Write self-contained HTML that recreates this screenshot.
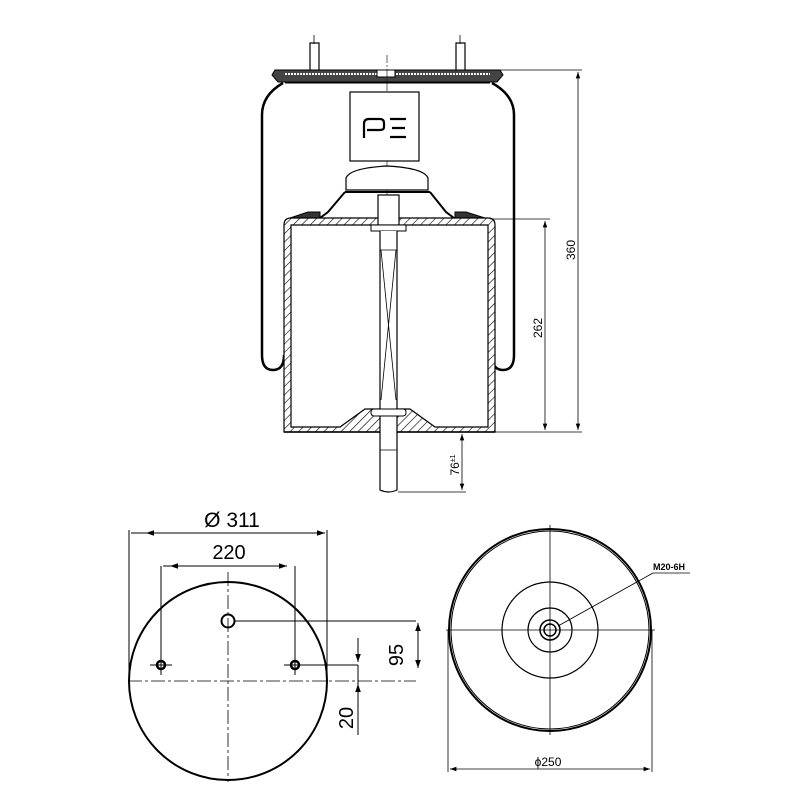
<!DOCTYPE html>
<html><head><meta charset="utf-8"><style>body{margin:0;background:#fff}svg{display:block}</style></head><body>
<svg width="800" height="800" viewBox="0 0 800 800" xmlns="http://www.w3.org/2000/svg" font-family="Liberation Sans, sans-serif">
<defs>
<marker id="a" viewBox="0 0 10 10" refX="10" refY="5" markerWidth="8" markerHeight="8" orient="auto-start-reverse"><path d="M0,1.5 L10,5 L0,8.5 Z" fill="#000"/></marker>
<pattern id="h" width="6" height="6" patternUnits="userSpaceOnUse" patternTransform="rotate(45)"><rect width="6" height="6" fill="#fff"/><line x1="0" y1="0" x2="0" y2="6" stroke="#000" stroke-width="1.2"/></pattern>
</defs>
<g stroke="#000" fill="none">
<line x1="314" y1="35" x2="314" y2="44" stroke-width="0.8"/>
<line x1="460" y1="35" x2="460" y2="44" stroke-width="0.8"/>
<rect x="310" y="43" width="9" height="33" stroke-width="1.2"/>
<rect x="456" y="43" width="9" height="33" stroke-width="1.2"/>
<path d="M275,70 L500,70 L503,75 L497,82 L278,82 L272,75 Z" fill="#444" stroke-width="1"/>
<line x1="285" y1="74" x2="490" y2="74" stroke="#fff" stroke-width="2" stroke-dasharray="2,1"/>
<rect x="377" y="70" width="18" height="7" fill="#fff" stroke-width="1"/>
<line x1="285" y1="83" x2="490" y2="83" stroke-width="1"/>
<path d="M283,83 Q262,95 262,115 L262,355 Q262,370 273,370 Q284,370 284,355" stroke-width="2.5"/>
<path d="M492,83 Q514,95 514,115 L514,355 Q514,370 503,370 Q492,370 492,355" stroke-width="2.5"/>
<rect x="350" y="92" width="69" height="69" stroke-width="1.2"/>
<path d="M364,138 L364,124 Q364,119 369,119 L380,119 Q384,119 384,123 L384,127 Q384,130 380,130 L367,130 M390,119 L406,119 M392,128 L405,128 M390,137 L406,137" stroke-width="2.2"/>
<line x1="387" y1="55" x2="387" y2="92" stroke-width="0.6" stroke-dasharray="8,2,2,2"/>
<line x1="387" y1="161" x2="387" y2="196" stroke-width="0.6"/>
<path d="M346,190 L346,178 Q350,168 387,166 Q424,168 428,178 L428,190 Z" stroke-width="1.2" fill="#fff"/>
<path d="M345,192 L430,192 M345,192 L328,212 L320,218 M430,192 L446,212 L454,218" stroke-width="2"/>
<path d="M308,212 L320,212 L320,218 L290,218 Z" fill="#333" stroke-width="1"/>
<path d="M466,212 L455,212 L455,218 L485,218 Z" fill="#333" stroke-width="1"/>
<path d="M284,432 L284,225 Q284,218 291,218 L488,218 Q495,218 495,225 L495,432 Z" fill="url(#h)" stroke-width="1.2"/>
<path d="M291,427 L291,225 L488,225 L488,427 L435,427 L410,409 L365,409 L340,427 Z" fill="#fff" stroke-width="1.2"/>
<line x1="284" y1="432" x2="495" y2="432" stroke-width="1.5"/>
<rect x="378" y="195" width="21" height="30" fill="#fff" stroke-width="1.2"/>
<rect x="371" y="225" width="35" height="6" fill="#fff" stroke-width="1"/>
<path d="M380,231 L380,490 Q388,494 397,490 L397,231" fill="#fff" stroke-width="1.2"/>
<path d="M381,250 L396,400 M396,250 L381,400" stroke-width="0.8"/>
<line x1="380" y1="250" x2="397" y2="250" stroke-width="0.8"/>
<line x1="380" y1="450" x2="397" y2="450" stroke-width="0.8"/>
<rect x="371" y="409" width="35" height="7" rx="3" fill="#fff" stroke-width="1"/>
<g stroke-width="0.8">
<line x1="500" y1="70" x2="582" y2="70"/>
<line x1="490" y1="219" x2="550" y2="219"/>
<line x1="495" y1="432" x2="582" y2="432"/>
<line x1="398" y1="492" x2="466" y2="492"/>
<line x1="578" y1="72" x2="578" y2="430" marker-start="url(#a)" marker-end="url(#a)"/>
<line x1="545" y1="221" x2="545" y2="430" marker-start="url(#a)" marker-end="url(#a)"/>
<line x1="462" y1="434" x2="462" y2="490" marker-start="url(#a)" marker-end="url(#a)"/>
</g>
<circle cx="228" cy="681" r="99" stroke-width="2"/>
<line x1="128" y1="681" x2="416" y2="681" stroke-width="0.8" stroke-dasharray="14,3,3,3"/>
<line x1="228" y1="572" x2="228" y2="782" stroke-width="0.8" stroke-dasharray="14,3,3,3"/>
<circle cx="228" cy="621" r="6.5" stroke-width="2"/>
<circle cx="161" cy="665" r="4" stroke-width="2.5"/>
<circle cx="295" cy="665" r="4" stroke-width="2.5"/>
<g stroke-width="1">
<line x1="150" y1="665" x2="172" y2="665"/><line x1="284" y1="665" x2="306" y2="665"/>
<line x1="161" y1="566" x2="161" y2="675"/><line x1="295" y1="566" x2="295" y2="675"/>
<line x1="129" y1="530" x2="129" y2="680"/><line x1="327" y1="530" x2="327" y2="680"/>
<line x1="131" y1="533" x2="325" y2="533" marker-end="url(#a)"/>
<line x1="325" y1="533" x2="146" y2="533" marker-end="url(#a)"/>
<line x1="163" y1="566" x2="287" y2="566" marker-end="url(#a)"/>
<line x1="287" y1="566" x2="170" y2="566" marker-end="url(#a)"/>
<line x1="235" y1="621" x2="416" y2="621"/>
<line x1="299" y1="665" x2="358" y2="665"/><line x1="358" y1="665" x2="358" y2="685"/>
<line x1="358" y1="638" x2="358" y2="662" marker-end="url(#a)"/>
<line x1="358" y1="735" x2="358" y2="684" marker-end="url(#a)"/>
<line x1="418" y1="640" x2="418" y2="623" marker-end="url(#a)"/>
<line x1="418" y1="640" x2="418" y2="668" marker-end="url(#a)"/>
</g>
<circle cx="550" cy="630" r="101" stroke-width="2"/>
<circle cx="550" cy="630" r="99" stroke-width="1"/>
<circle cx="550" cy="630" r="48" stroke-width="1.2"/>
<circle cx="550" cy="630" r="22" stroke-width="1.2"/>
<circle cx="550" cy="630" r="10" stroke-width="1.5"/>
<circle cx="550" cy="630" r="6" stroke-width="1.5"/>
<g stroke-width="0.8">
<line x1="446" y1="630" x2="655" y2="630"/>
<line x1="550" y1="525" x2="550" y2="735"/>
<line x1="448" y1="630" x2="448" y2="772"/>
<line x1="652" y1="630" x2="652" y2="772"/>
<line x1="450" y1="769" x2="650" y2="769" marker-start="url(#a)" marker-end="url(#a)"/>
<line x1="558" y1="626" x2="653" y2="573"/>
<line x1="653" y1="573" x2="690" y2="573"/>
</g>
</g>
<g fill="#000" stroke="none">
<text transform="translate(575,250) rotate(-90)" font-size="12" text-anchor="middle">360</text>
<text transform="translate(542,328) rotate(-90)" font-size="12" text-anchor="middle">262</text>
<text transform="translate(459,465) rotate(-90)" font-size="12" text-anchor="middle">76<tspan font-size="7" dy="-4">±1</tspan></text>
<text x="232" y="527" font-size="21" text-anchor="middle">Ø 311</text>
<text x="229" y="559" font-size="20" text-anchor="middle">220</text>
<text transform="translate(403,655) rotate(-90)" font-size="20" text-anchor="middle">95</text>
<text transform="translate(353,718) rotate(-90)" font-size="20" text-anchor="middle">20</text>
<text x="653" y="570" font-size="9" font-weight="bold">M20-6H</text>
<text x="548" y="766" font-size="12" text-anchor="middle">ϕ250</text>
</g>
</svg>
</body></html>
